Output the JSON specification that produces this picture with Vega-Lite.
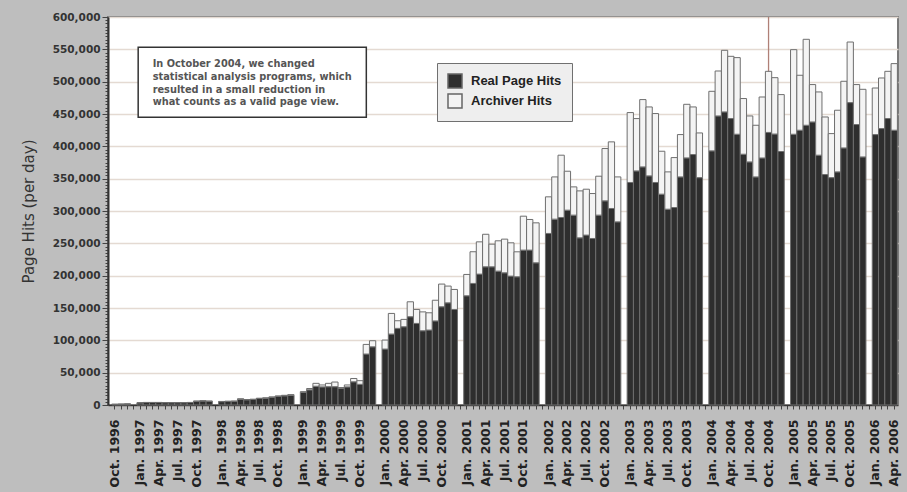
{
  "$schema": "https://vega.github.io/schema/vega-lite/v6.json",
  "width": 790,
  "height": 388,
  "autosize": {"type": "none"},
  "padding": {"left": 108, "top": 17, "right": 9, "bottom": 87},
  "background": "#bebebe",
  "config": {
    "view": {"fill": "white", "stroke": "#7a7a7a", "strokeWidth": 2},
    "legend": {
      "orient": "none",
      "legendX": 329,
      "legendY": 46,
      "fillColor": "#eeeeee",
      "strokeColor": "#707070",
      "padding": 10,
      "cornerRadius": 0
    }
  },
  "data": {
    "values": [
      {"m":"1996-10","real":1000,"archiver":100},
      {"m":"1996-11","real":1200,"archiver":100},
      {"m":"1996-12","real":1500,"archiver":100},
      {"m":"1997-01","real":3300,"archiver":200},
      {"m":"1997-02","real":3800,"archiver":200},
      {"m":"1997-03","real":3800,"archiver":200},
      {"m":"1997-04","real":3800,"archiver":200},
      {"m":"1997-05","real":3600,"archiver":200},
      {"m":"1997-06","real":3600,"archiver":200},
      {"m":"1997-07","real":3600,"archiver":200},
      {"m":"1997-08","real":3600,"archiver":200},
      {"m":"1997-09","real":3800,"archiver":200},
      {"m":"1997-10","real":5700,"archiver":300},
      {"m":"1997-11","real":6200,"archiver":300},
      {"m":"1997-12","real":5700,"archiver":300},
      {"m":"1998-01","real":5200,"archiver":300},
      {"m":"1998-02","real":5500,"archiver":300},
      {"m":"1998-03","real":5700,"archiver":300},
      {"m":"1998-04","real":9000,"archiver":500},
      {"m":"1998-05","real":8000,"archiver":500},
      {"m":"1998-06","real":8500,"archiver":500},
      {"m":"1998-07","real":10000,"archiver":500},
      {"m":"1998-08","real":10500,"archiver":500},
      {"m":"1998-09","real":11800,"archiver":700},
      {"m":"1998-10","real":13300,"archiver":700},
      {"m":"1998-11","real":14200,"archiver":800},
      {"m":"1998-12","real":15000,"archiver":1000},
      {"m":"1999-01","real":19500,"archiver":1100},
      {"m":"1999-02","real":23500,"archiver":2000},
      {"m":"1999-03","real":29000,"archiver":4500},
      {"m":"1999-04","real":28000,"archiver":3000},
      {"m":"1999-05","real":28300,"archiver":5200},
      {"m":"1999-06","real":28300,"archiver":7200},
      {"m":"1999-07","real":26000,"archiver":1000},
      {"m":"1999-08","real":28000,"archiver":3000},
      {"m":"1999-09","real":35900,"archiver":5100},
      {"m":"1999-10","real":32000,"archiver":5600},
      {"m":"1999-11","real":78800,"archiver":14900},
      {"m":"1999-12","real":90000,"archiver":9400},
      {"m":"2000-01","real":86500,"archiver":13900},
      {"m":"2000-02","real":109700,"archiver":31900},
      {"m":"2000-03","real":118500,"archiver":11800},
      {"m":"2000-04","real":121000,"archiver":11400},
      {"m":"2000-05","real":136500,"archiver":23100},
      {"m":"2000-06","real":126200,"archiver":21600},
      {"m":"2000-07","real":114800,"archiver":29200},
      {"m":"2000-08","real":115900,"archiver":26700},
      {"m":"2000-09","real":130000,"archiver":32000},
      {"m":"2000-10","real":151900,"archiver":35100},
      {"m":"2000-11","real":158000,"archiver":25900},
      {"m":"2000-12","real":147800,"archiver":30900},
      {"m":"2001-01","real":168900,"archiver":33000},
      {"m":"2001-02","real":188000,"archiver":49000},
      {"m":"2001-03","real":202400,"archiver":49900},
      {"m":"2001-04","real":213700,"archiver":50300},
      {"m":"2001-05","real":213700,"archiver":35000},
      {"m":"2001-06","real":207000,"archiver":46900},
      {"m":"2001-07","real":204400,"archiver":52100},
      {"m":"2001-08","real":199300,"archiver":51500},
      {"m":"2001-09","real":198300,"archiver":38600},
      {"m":"2001-10","real":239500,"archiver":52500},
      {"m":"2001-11","real":239500,"archiver":47400},
      {"m":"2001-12","real":219900,"archiver":61800},
      {"m":"2002-01","real":265300,"archiver":56600},
      {"m":"2002-02","real":287400,"archiver":65300},
      {"m":"2002-03","real":290000,"archiver":96300},
      {"m":"2002-04","real":301300,"archiver":60200},
      {"m":"2002-05","real":293600,"archiver":43700},
      {"m":"2002-06","real":258500,"archiver":72600},
      {"m":"2002-07","real":262700,"archiver":71000},
      {"m":"2002-08","real":257500,"archiver":69500},
      {"m":"2002-09","real":293600,"archiver":60200},
      {"m":"2002-10","real":315700,"archiver":80900},
      {"m":"2002-11","real":303900,"archiver":103000},
      {"m":"2002-12","real":283200,"archiver":69500},
      {"m":"2003-01","real":344100,"archiver":108100},
      {"m":"2003-02","real":362000,"archiver":80900},
      {"m":"2003-03","real":368200,"archiver":104100},
      {"m":"2003-04","real":354300,"archiver":106600},
      {"m":"2003-05","real":344100,"archiver":106600},
      {"m":"2003-06","real":326000,"archiver":66400},
      {"m":"2003-07","real":302800,"archiver":57700},
      {"m":"2003-08","real":305400,"archiver":77200},
      {"m":"2003-09","real":352700,"archiver":65500},
      {"m":"2003-10","real":382100,"archiver":82900},
      {"m":"2003-11","real":387300,"archiver":73600},
      {"m":"2003-12","real":351600,"archiver":69100},
      {"m":"2004-01","real":393000,"archiver":92100},
      {"m":"2004-02","real":447000,"archiver":69500},
      {"m":"2004-03","real":453200,"archiver":95300},
      {"m":"2004-04","real":443000,"archiver":96200},
      {"m":"2004-05","real":418700,"archiver":118500},
      {"m":"2004-06","real":387800,"archiver":86100},
      {"m":"2004-07","real":375900,"archiver":71100},
      {"m":"2004-08","real":352700,"archiver":79900},
      {"m":"2004-09","real":382000,"archiver":94300},
      {"m":"2004-10","real":421500,"archiver":94500},
      {"m":"2004-11","real":419000,"archiver":87200},
      {"m":"2004-12","real":392000,"archiver":88000},
      {"m":"2005-01","real":418700,"archiver":130800},
      {"m":"2005-02","real":424900,"archiver":85000},
      {"m":"2005-03","real":432600,"archiver":132900},
      {"m":"2005-04","real":437700,"archiver":57800},
      {"m":"2005-05","real":386300,"archiver":97800},
      {"m":"2005-06","real":356400,"archiver":89000},
      {"m":"2005-07","real":351600,"archiver":68100},
      {"m":"2005-08","real":360500,"archiver":95300},
      {"m":"2005-09","real":397500,"archiver":103100},
      {"m":"2005-10","real":467600,"archiver":93700},
      {"m":"2005-11","real":433700,"archiver":61800},
      {"m":"2005-12","real":383600,"archiver":104600},
      {"m":"2006-01","real":418200,"archiver":72000},
      {"m":"2006-02","real":427500,"archiver":78200},
      {"m":"2006-03","real":443000,"archiver":73000},
      {"m":"2006-04","real":424900,"archiver":103000}
    ]
  },
  "layer": [
    {
      "data": {"values": [{"m": "2004-10"}]},
      "mark": {"type": "rule", "color": "#b08077", "strokeWidth": 1.3},
      "encoding": {"x": {"field": "m", "type": "ordinal"}}
    },
    {
      "transform": [{"fold": ["real", "archiver"], "as": ["series", "hits"]}],
      "mark": {"type": "bar", "stroke": "#6e6e6e", "strokeWidth": 1},
      "encoding": {
        "x": {
          "field": "m",
          "type": "ordinal",
          "scale": {
            "type": "band",
            "paddingInner": 0,
            "paddingOuter": 0.35,
            "align": 0.86,
            "domain": ["1996-10","1996-11","1996-12","g1997","1997-01","1997-02","1997-03","1997-04","1997-05","1997-06","1997-07","1997-08","1997-09","1997-10","1997-11","1997-12","g1998","1998-01","1998-02","1998-03","1998-04","1998-05","1998-06","1998-07","1998-08","1998-09","1998-10","1998-11","1998-12","g1999","1999-01","1999-02","1999-03","1999-04","1999-05","1999-06","1999-07","1999-08","1999-09","1999-10","1999-11","1999-12","g2000","2000-01","2000-02","2000-03","2000-04","2000-05","2000-06","2000-07","2000-08","2000-09","2000-10","2000-11","2000-12","g2001","2001-01","2001-02","2001-03","2001-04","2001-05","2001-06","2001-07","2001-08","2001-09","2001-10","2001-11","2001-12","g2002","2002-01","2002-02","2002-03","2002-04","2002-05","2002-06","2002-07","2002-08","2002-09","2002-10","2002-11","2002-12","g2003","2003-01","2003-02","2003-03","2003-04","2003-05","2003-06","2003-07","2003-08","2003-09","2003-10","2003-11","2003-12","g2004","2004-01","2004-02","2004-03","2004-04","2004-05","2004-06","2004-07","2004-08","2004-09","2004-10","2004-11","2004-12","g2005","2005-01","2005-02","2005-03","2005-04","2005-05","2005-06","2005-07","2005-08","2005-09","2005-10","2005-11","2005-12","g2006","2006-01","2006-02","2006-03","2006-04"]
          },
          "axis": {
            "title": null,
            "labelAngle": -90,
            "labelOverlap": false,
            "labelExpr": "indexof(['01','04','07','10'], substring(datum.value,5,7)) >= 0 && indexof(datum.value,'g') < 0 ? ['Jan.','Apr.','Jul.','Oct.'][indexof(['01','04','07','10'], substring(datum.value,5,7))] + ' ' + substring(datum.value,0,4) : ''",
            "labelFont": "DejaVu Sans",
            "labelFontWeight": "bold",
            "labelFontSize": 12.5,
            "labelColor": "#222222",
            "labelPadding": 10,
            "tickSize": 4,
            "tickColor": "#444444",
            "domainColor": "#333333",
            "domainWidth": 1.5
          }
        },
        "y": {
          "field": "hits",
          "type": "quantitative",
          "stack": "zero",
          "scale": {"domain": [0, 600000], "nice": false},
          "axis": {
            "title": "Page Hits (per day)",
            "titleFont": "DejaVu Sans",
            "titleFontWeight": "normal",
            "titleFontSize": 15,
            "titleColor": "#333333",
            "titlePadding": 16,
            "tickCount": 120,
            "labelOverlap": false,
            "labelExpr": "datum.value % 50000 === 0 ? format(datum.value, ',') : ''",
            "labelFont": "DejaVu Sans",
            "labelFontWeight": "bold",
            "labelFontSize": 10.5,
            "labelColor": "#333333",
            "labelPadding": 2,
            "tickSize": {"condition": {"test": "datum.value % 50000 === 0", "value": 6}, "value": 3},
            "tickColor": "#444444",
            "domainColor": "#333333",
            "domainWidth": 2,
            "grid": true,
            "gridColor": "#e4dad2",
            "gridWidth": 1.5,
            "gridOpacity": {"condition": {"test": "datum.value % 50000 === 0", "value": 1}, "value": 0}
          }
        },
        "color": {
          "field": "series",
          "type": "nominal",
          "scale": {"domain": ["real", "archiver"], "range": ["#2e2e2e", "#f4f4f4"]},
          "legend": {
            "title": null,
            "labelExpr": "datum.value == 'real' ? 'Real Page Hits' : 'Archiver Hits'",
            "symbolType": "square",
            "symbolSize": 196,
            "symbolStrokeColor": "#666666",
            "symbolStrokeWidth": 1.5,
            "labelFont": "Liberation Sans",
            "labelFontWeight": "bold",
            "labelFontSize": 13,
            "labelColor": "#222222",
            "labelOffset": 8,
            "rowPadding": 0
          }
        },
        "order": {"field": "series", "sort": "descending"}
      }
    },
    {
      "data": {"values": [{"m": "1997-01", "m2": "1999-11", "y1": 553200, "y2": 445000}]},
      "mark": {"type": "rect", "fill": "white", "stroke": "#333333", "strokeWidth": 1.5},
      "encoding": {
        "x": {"field": "m", "type": "ordinal", "bandPosition": 0.2},
        "x2": {"field": "m2", "bandPosition": 0.5},
        "y": {"field": "y1", "type": "quantitative"},
        "y2": {"field": "y2"}
      }
    },
    {
      "data": {"values": [{"m": "1997-03", "yt": 522000, "note": "In October 2004, we changed\nstatistical analysis programs, which\nresulted in a small reduction in\nwhat counts as a valid page view."}]},
      "mark": {
        "type": "text",
        "align": "left",
        "baseline": "alphabetic",
        "lineBreak": "\n",
        "lineHeight": 12.6,
        "font": "DejaVu Sans",
        "fontWeight": "bold",
        "fontSize": 9.8,
        "fill": "#555555"
      },
      "encoding": {
        "x": {"field": "m", "type": "ordinal"},
        "y": {"field": "yt", "type": "quantitative"},
        "text": {"field": "note"}
      }
    }
  ]
}
